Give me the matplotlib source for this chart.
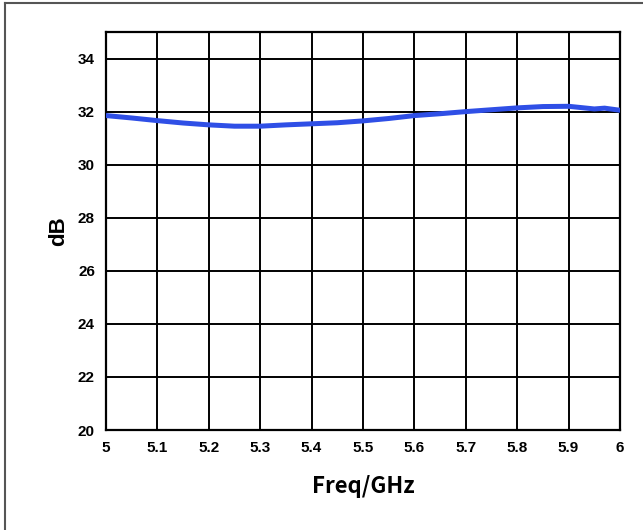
import matplotlib
matplotlib.use("Agg")
import matplotlib.pyplot as plt
from matplotlib.lines import Line2D

freq = [5.0, 5.05, 5.1, 5.15, 5.2, 5.25, 5.3, 5.35, 5.4, 5.45, 5.5, 5.55, 5.6, 5.65,
        5.7, 5.75, 5.8, 5.85, 5.9, 5.95, 5.97, 6.0]
gain = [31.85, 31.76, 31.66, 31.57, 31.5, 31.45, 31.45, 31.5, 31.54, 31.58, 31.65, 31.74,
        31.85, 31.92, 32.0, 32.07, 32.14, 32.19, 32.2, 32.1, 32.13, 32.05]
x_ticks = [5, 5.1, 5.2, 5.3, 5.4, 5.5, 5.6, 5.7, 5.8, 5.9, 6]
x_labels = ["5", "5.1", "5.2", "5.3", "5.4", "5.5", "5.6", "5.7", "5.8", "5.9", "6"]
y_ticks = [20, 22, 24, 26, 28, 30, 32, 34]

fig = plt.figure(figsize=(6.43, 5.30), dpi=100)
W, H = 643, 530
ax = fig.add_axes([106 / W, 1 - 430 / H, (620 - 106) / W, (430 - 32) / H])

ax.plot(freq, gain, color="#2f4fe6", lw=3.6, solid_capstyle="round", zorder=3)

ax.set_xlim(5, 6)
ax.set_ylim(20, 35)
ax.set_xticks(x_ticks)
ax.set_xticklabels(x_labels)
ax.set_yticks(y_ticks)
ax.grid(True, color="black", lw=1.4)
for s in ax.spines.values():
    s.set_color("black")
    s.set_linewidth(1.6)
ax.tick_params(length=0, labelsize=11)
ax.tick_params(axis="x", pad=8)
ax.tick_params(axis="y", pad=8)
for lab in ax.get_xticklabels() + ax.get_yticklabels():
    lab.set_fontfamily("Liberation Sans")
    lab.set_fontweight("bold")

ax.set_ylabel("dB", fontfamily="Liberation Sans", fontweight="bold", fontsize=16, labelpad=6)
ax.set_xlabel("Freq/GHz", fontfamily="Noto Sans CJK SC", fontweight="bold", fontsize=16, labelpad=14)

# figure frame along top and left edges
fig.add_artist(Line2D([5 / W, 1], [1 - 3 / H, 1 - 3 / H], transform=fig.transFigure, color="#555555", lw=1.5))
fig.add_artist(Line2D([5 / W, 5 / W], [0, 1 - 3 / H], transform=fig.transFigure, color="#555555", lw=1.5))

fig.savefig("out.png", dpi=100)
